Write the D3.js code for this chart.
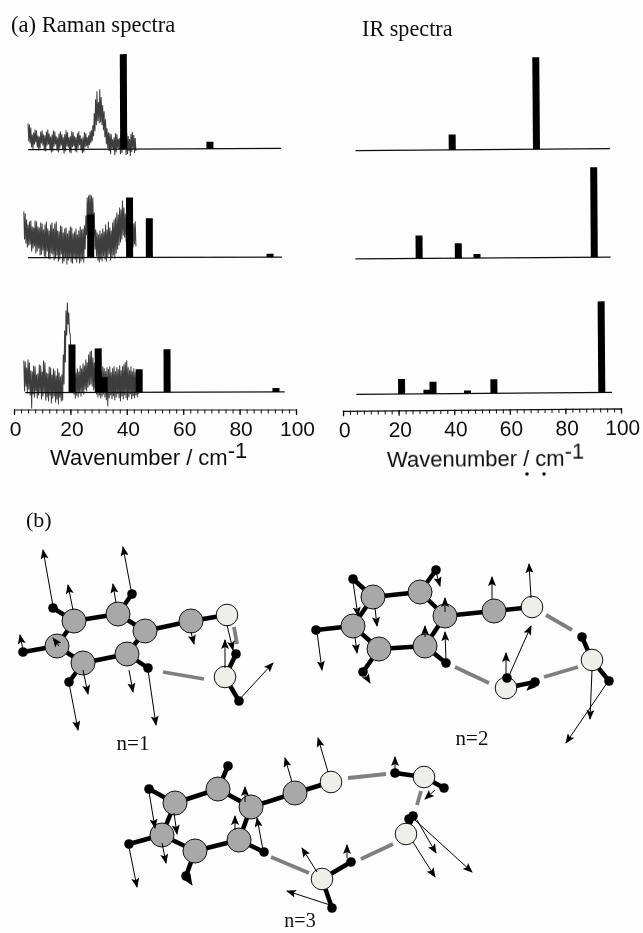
<!DOCTYPE html>
<html>
<head>
<meta charset="utf-8">
<title>Raman and IR spectra</title>
<script src="https://cdnjs.cloudflare.com/ajax/libs/d3/7.8.5/d3.min.js"></script>
<style>
  html, body { margin: 0; padding: 0; background: #fdfdfd; }
  svg { display: block; }
  .serif { font-family: "Liberation Serif", serif; fill: #111; }
  .sans { font-family: "Liberation Sans", sans-serif; fill: #111; }
</style>
</head>
<body>
<div id="chart"></div>
<script>
// stick spectra: [wavenumber / cm-1, intensity]
const ramanN1 = [[38.9, 95], [69.5, 7]]
const ramanN2 = [[27.2, 43], [41, 60], [48, 39], [90.8, 3.5]]
const ramanN3 = [[20.6, 48], [29.9, 44], [32, 15], [44.4, 23], [54.3, 43], [92.9, 4]]
const irN1 = [[39.3, 15.5], [69.6, 92]]
const irN2 = [[27.4, 23], [41.5, 15], [48.2, 4], [90.4, 90]]
const irN3 = [[21.1, 15], [30.2, 4], [32.4, 12], [44.8, 3], [54.3, 14], [93.1, 91]]

// measured raman traces, upper and lower edge of the noise, one pair per 0.5 cm-1
const traceN1Start = 5
const traceN1High = [26,25,22,15,17,20,19,14,13,18,19,15,14,18,20,16,13,15,19,18,13,12,16,18,15,12,15,19,17,12,13,18,17,13,12,16,18,14,11,12,17,16,12,14,18,19,24,36,50,58,47,60,52,44,38,30,21,17,16,15,10,12,16,15,10,11,15,14,10,12,16,13,10,15,17,14,11]
const traceN1Low = [8,6,2,0,5,7,2,-1,1,6,4,-1,-2,4,5,0,-3,-2,3,5,-1,-3,1,4,0,-4,-2,3,2,-3,-4,2,3,-2,-3,1,4,-1,-4,-3,2,3,1,4,6,8,13,18,24,28,26,27,24,19,12,5,1,-2,-5,1,-1,-6,-3,1,0,-5,-4,-1,1,-6,-5,-2,-7,-3,0,-4,-2]
const traceN2Start = 3.5
const traceN2High = [46,44,38,33,36,37,31,30,37,36,31,30,35,34,28,33,36,29,27,33,35,29,34,36,27,26,32,31,25,29,30,24,27,31,30,24,26,29,23,27,31,28,29,32,42,60,62,63,62,60,45,28,25,23,27,24,29,26,33,28,36,30,27,35,38,40,45,43,50,48,57,50,44,40,35,30,28,30,34,36]
const traceN2Low = [18,14,10,12,13,6,9,11,4,6,9,2,3,7,1,0,6,-1,-2,4,3,-3,-1,2,-4,-2,3,-6,-4,0,-7,-3,-1,-5,-6,-1,-2,-5,-1,-6,-4,-2,-5,8,22,34,36,35,34,20,8,1,-3,-5,-2,-4,1,-2,-4,0,3,-3,0,2,-1,4,8,12,15,18,22,20,16,18,15,12,14,10,13,11]
const traceN3Start = 3.5
const traceN3High = [32,31,25,33,30,22,21,27,26,18,19,28,27,21,32,30,20,19,26,25,18,24,22,17,24,20,16,18,38,62,82,90,80,58,40,26,22,20,24,21,27,24,29,27,33,30,38,41,42,35,30,27,25,28,24,22,26,24,21,25,23,26,20,24,26,21,25,23,27,22,26,28,30,32,25,22,26,21,24,20,22,20]
const traceN3Low = [1,6,-1,3,-3,-16,-2,-5,1,-6,-3,0,-7,-4,-1,-8,-5,-9,-3,-11,-6,-4,-10,-7,-12,-5,-9,-8,8,30,57,68,60,35,10,-2,-6,-3,-5,-1,-4,0,-2,3,1,5,7,8,6,2,4,-2,-5,-3,-6,-4,-2,-5,-8,-14,-6,-3,-7,-4,-8,-5,-2,-6,-9,-4,-7,-3,-6,-8,-5,-2,-7,-4,-6,-3,-5,-2]

// axis labels
const majorTicks = [0, 20, 40, 60, 80, 100]
const minorTicks = d3.range(0, 100.1, 2.5)

// molecule drawings, atom positions
const n1Carbon = [[74,621],[118,614],[145,631],[127,654],[83,663],[57,646],[191,621]]
const n1Oxygen = [[227,615],[225,677]]
const n1Hydrogen = [[53,608],[132,594],[23,652],[69,682],[148,668],[236,654],[239,701]]
const n1Bonds = [[0,1],[1,2],[2,3],[3,4],[4,5],[5,0],[2,6],[6,7],[0,9],[1,10],[5,11],[4,12],[3,13],[8,14],[8,15]]
const n1HBonds = [[163,672,204,679],[234,627,237,644]]
const n1Arrows = [[53,606,43,550],[73,610,68,585],[116,603,113,584],[131,590,123,547],[23,650,20,635],[59,646,53,638],[191,632,194,644],[227,625,233,650],[225,668,225,640],[239,700,273,663],[69,683,78,730],[83,670,88,694],[129,670,133,692],[148,670,156,725]]

const n2Carbon = [[373,597],[420,592],[445,616],[425,646],[379,649],[353,626],[494,611]]
const n2Oxygen = [[532,607],[506,688],[592,660]]
const n2Hydrogen = [[353,579],[436,570],[316,630],[363,672],[446,663],[507,678],[535,682],[582,637],[609,681]]
const n2Bonds = [[0,1],[1,2],[2,3],[3,4],[4,5],[5,0],[2,6],[6,7],[0,10],[1,11],[5,12],[4,13],[3,14],[8,15],[8,16],[9,17],[9,18]]
const n2HBonds = [[455,667,489,683],[546,615,572,630],[544,677,578,667]]
const n2Arrows = [[353,582,358,616],[436,572,440,586],[375,608,377,626],[445,612,445,598],[425,637,425,626],[317,632,322,670],[355,637,357,653],[364,673,370,683],[446,660,445,632],[506,677,506,653],[508,678,531,626],[492,599,492,577],[531,598,529,564],[535,683,527,690],[592,670,590,719],[607,683,566,743]]

const n3Carbon = [[175,803],[218,789],[251,807],[239,840],[195,851],[162,835],[295,793]]
const n3Oxygen = [[331,782],[424,777],[406,834],[322,879]]
const n3Hydrogen = [[149,789],[228,766],[129,844],[186,876],[264,852],[395,773],[444,788],[413,816],[409,819],[351,862],[332,908]]
const n3Bonds = [[0,1],[1,2],[2,3],[3,4],[4,5],[5,0],[2,6],[6,7],[0,11],[1,12],[5,13],[4,14],[3,15],[8,16],[8,17],[9,18],[9,19],[10,20],[10,21]]
const n3HBonds = [[271,857,309,873],[361,859,393,844],[348,778,386,774],[421,791,417,805]]
const n3Arrows = [[149,792,155,828],[174,813,177,834],[162,843,166,863],[129,847,137,887],[187,877,192,885],[245,802,245,787],[235,830,235,816],[263,850,257,818],[292,782,285,758],[328,772,318,738],[395,770,395,757],[435,790,425,799],[347,858,347,845],[317,872,302,848],[330,905,287,891],[413,842,435,877],[417,820,436,853],[415,820,472,872]]

const width = 643
const height = 933

const svg = d3.select('#chart')
  .append('svg')
  .attr('width', width)
  .attr('height', height)

const defs = svg.append('defs')
defs.append('filter')
  .attr('id', 'scan')
  .append('feGaussianBlur')
  .attr('stdDeviation', 0.4)
defs.append('marker')
  .attr('id', 'head')
  .attr('markerUnits', 'userSpaceOnUse')
  .attr('viewBox', '0 0 10 8')
  .attr('refX', 9)
  .attr('refY', 4)
  .attr('markerWidth', 12)
  .attr('markerHeight', 8)
  .attr('orient', 'auto')
  .append('path')
  .attr('d', 'M0,0L10,4L0,8L2,4Z')
  .attr('fill', '#000')

const root = svg.append('g').attr('filter', 'url(#scan)')

const ramanX = d3.scaleLinear().domain([0, 100]).range([14, 296])
const irX = d3.scaleLinear().domain([0, 100]).range([343, 621])
const intensity = d3.scaleLinear().domain([0, 100]).range([0, -100])

function drawPanel (x, baseline, tilt, span, bars, trace) {
  const g = root.append('g')
    .attr('transform', `translate(0,${baseline}) rotate(${tilt},${x(0)},0)`)

  if (trace) {
    const points = trace.high.flatMap((h, i) => [
      [trace.start + i * 0.5, h],
      [trace.start + i * 0.5 + 0.25, trace.low[i]]
    ])
    const line = d3.line()
      .x(d => x(d[0]))
      .y(d => intensity(d[1]))
    g.append('path')
      .attr('d', line(points))
      .attr('fill', 'none')
      .attr('stroke', '#3c3c3c')
      .attr('stroke-width', 1)
  }

  g.append('line')
    .attr('x1', x(span[0]))
    .attr('x2', x(span[1]))
    .attr('stroke', '#111')
    .attr('stroke-width', 1.2)

  g.selectAll('rect')
    .data(bars)
    .enter()
    .append('rect')
    .attr('x', d => x(d[0]) - 3.5)
    .attr('width', 7)
    .attr('y', d => intensity(d[1]))
    .attr('height', d => -intensity(d[1]))
    .attr('fill', '#000')
}

drawPanel(ramanX, 149.6, -0.25, [5, 94.7], ramanN1, { start: traceN1Start, high: traceN1High, low: traceN1Low })
drawPanel(ramanX, 257.6, -0.1, [5, 95], ramanN2, { start: traceN2Start, high: traceN2High, low: traceN2Low })
drawPanel(ramanX, 392.6, -0.15, [4, 96], ramanN3, { start: traceN3Start, high: traceN3High, low: traceN3Low })
drawPanel(irX, 150.8, -0.45, [4.5, 96], irN1)
drawPanel(irX, 259, -0.4, [4.5, 96.3], irN2)
drawPanel(irX, 394.4, -0.45, [4.8, 96.8], irN3)

function drawAxis (x, y, tilt, labelDx) {
  const g = root.append('g')
    .attr('transform', `translate(0,${y}) rotate(${tilt},${x(0)},0)`)

  const minor = g.append('g').call(d3.axisBottom(x).tickValues(minorTicks).tickSize(4).tickFormat(''))
  const major = g.append('g').call(d3.axisBottom(x).tickValues(majorTicks).tickSize(5.5))

  minor.select('.domain').attr('stroke', '#111').attr('stroke-width', 1.2)
  major.select('.domain').remove()
  minor.selectAll('.tick line').attr('stroke', '#111').attr('stroke-width', 1)
  major.selectAll('.tick line').attr('stroke', '#111').attr('stroke-width', 1.2)
  major.selectAll('.tick text')
    .attr('class', 'sans')
    .attr('y', 26.5)
    .attr('dy', 0)
    .attr('dx', labelDx)
    .style('font-family', '"Liberation Sans", sans-serif')
    .style('font-size', '21px')
}

drawAxis(ramanX, 409.5, 0, 1)
drawAxis(irX, 410.8, -0.5, 1)

function drawText (label, x, y, size, cls, anchor) {
  root.append('text')
    .attr('class', cls)
    .attr('x', x)
    .attr('y', y)
    .attr('font-size', size)
    .attr('text-anchor', anchor || 'start')
    .text(label)
}

drawText('(a) Raman spectra', 11, 32, 22.6, 'serif')
drawText('IR spectra', 362, 36, 22.2, 'serif')
drawText('(b)', 26, 527, 22, 'serif')
drawText('n=1', 133, 750, 21, 'serif', 'middle')
drawText('n=2', 472, 745, 21, 'serif', 'middle')
drawText('n=3', 300, 927, 20, 'serif', 'middle')

function drawXLabel (x, y, tilt) {
  const t = root.append('text')
    .attr('class', 'sans')
    .attr('x', x)
    .attr('y', y)
    .attr('font-size', 22)
    .attr('transform', `rotate(${tilt},${x},${y})`)
  t.append('tspan').text('Wavenumber / cm')
  t.append('tspan').attr('dy', -7).text('-1')
}

drawXLabel(50, 465, 0)
drawXLabel(387, 467, -0.4)

// the two specks under the right axis label
root.selectAll('circle.speck')
  .data([[527, 474], [544, 474]])
  .enter()
  .append('circle')
  .attr('class', 'speck')
  .attr('cx', d => d[0])
  .attr('cy', d => d[1])
  .attr('r', 1.8)
  .attr('fill', '#111')

const figX = d3.scaleIdentity()
const figY = d3.scaleIdentity()

function drawMolecule (carbon, oxygen, hydrogen, bonds, hBonds, arrows) {
  const g = root.append('g')
  const atoms = carbon.concat(oxygen, hydrogen)

  g.selectAll('line.bond')
    .data(bonds)
    .enter()
    .append('line')
    .attr('class', 'bond')
    .attr('x1', d => figX(atoms[d[0]][0]))
    .attr('y1', d => figY(atoms[d[0]][1]))
    .attr('x2', d => figX(atoms[d[1]][0]))
    .attr('y2', d => figY(atoms[d[1]][1]))
    .attr('stroke', '#000')
    .attr('stroke-width', 4.5)

  g.selectAll('line.hbond')
    .data(hBonds)
    .enter()
    .append('line')
    .attr('class', 'hbond')
    .attr('x1', d => figX(d[0]))
    .attr('y1', d => figY(d[1]))
    .attr('x2', d => figX(d[2]))
    .attr('y2', d => figY(d[3]))
    .attr('stroke', '#7f7f7f')
    .attr('stroke-width', 3.8)

  g.selectAll('circle.carbon')
    .data(carbon)
    .enter()
    .append('circle')
    .attr('class', 'carbon')
    .attr('cx', d => figX(d[0]))
    .attr('cy', d => figY(d[1]))
    .attr('r', 12)
    .attr('fill', '#a8a8a8')
    .attr('stroke', '#111')
    .attr('stroke-width', 1)

  g.selectAll('circle.oxygen')
    .data(oxygen)
    .enter()
    .append('circle')
    .attr('class', 'oxygen')
    .attr('cx', d => figX(d[0]))
    .attr('cy', d => figY(d[1]))
    .attr('r', 10.8)
    .attr('fill', '#eeeeea')
    .attr('stroke', '#111')
    .attr('stroke-width', 1)

  g.selectAll('circle.hydrogen')
    .data(hydrogen)
    .enter()
    .append('circle')
    .attr('class', 'hydrogen')
    .attr('cx', d => figX(d[0]))
    .attr('cy', d => figY(d[1]))
    .attr('r', 4.8)
    .attr('fill', '#000')

  g.selectAll('line.arrow')
    .data(arrows)
    .enter()
    .append('line')
    .attr('class', 'arrow')
    .attr('x1', d => figX(d[0]))
    .attr('y1', d => figY(d[1]))
    .attr('x2', d => figX(d[2]))
    .attr('y2', d => figY(d[3]))
    .attr('stroke', '#000')
    .attr('stroke-width', 1)
    .attr('marker-end', 'url(#head)')
}

drawMolecule(n1Carbon, n1Oxygen, n1Hydrogen, n1Bonds, n1HBonds, n1Arrows)
drawMolecule(n2Carbon, n2Oxygen, n2Hydrogen, n2Bonds, n2HBonds, n2Arrows)
drawMolecule(n3Carbon, n3Oxygen, n3Hydrogen, n3Bonds, n3HBonds, n3Arrows)
</script>
</body>
</html>
